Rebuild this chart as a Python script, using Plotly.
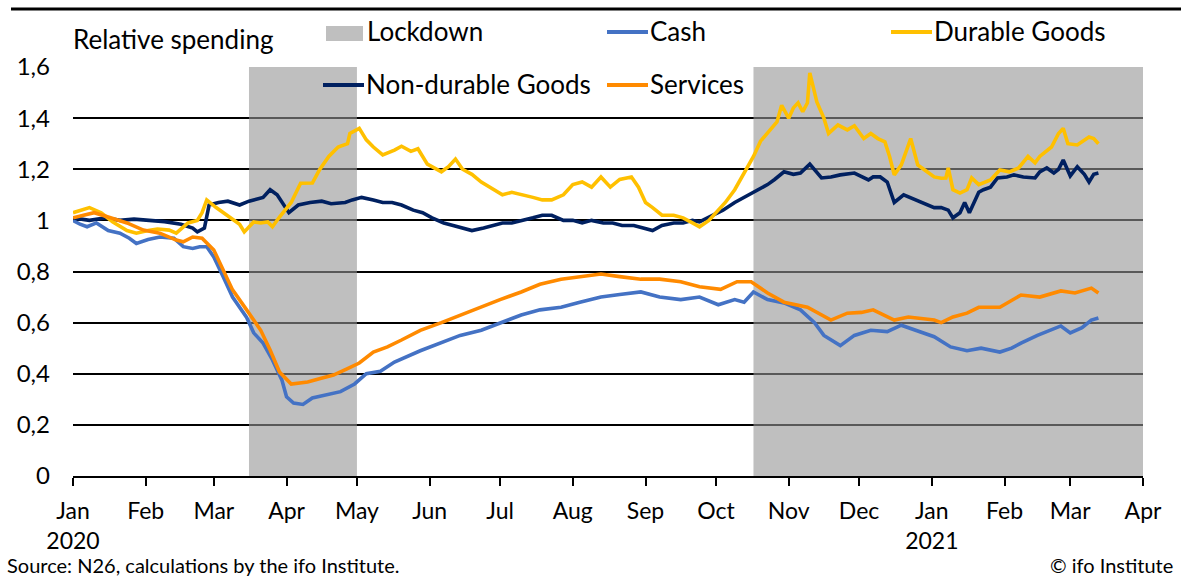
import plotly.graph_objects as go

# ---------------- data ----------------
lockdown_periods = [("2020-03-16", "2020-05-01"), ("2020-10-17", "2021-04-01")]

cash_dates = ["2020-01-01","2020-01-04","2020-01-07","2020-01-11","2020-01-16","2020-01-21","2020-01-25","2020-01-28",
    "2020-02-02","2020-02-07","2020-02-13","2020-02-17","2020-02-21","2020-02-24","2020-02-27","2020-03-01","2020-03-05",
    "2020-03-09","2020-03-15","2020-03-18","2020-03-22","2020-03-26","2020-03-30","2020-04-01","2020-04-04","2020-04-08",
    "2020-04-12","2020-04-18","2020-04-24","2020-04-30","2020-05-05","2020-05-11","2020-05-17","2020-05-28","2020-06-06",
    "2020-06-14","2020-06-23","2020-07-01","2020-07-10","2020-07-18","2020-07-27","2020-08-04","2020-08-13","2020-08-21",
    "2020-08-30","2020-09-07","2020-09-16","2020-09-24","2020-10-02","2020-10-09","2020-10-13","2020-10-17","2020-10-23",
    "2020-10-30","2020-11-06","2020-11-12","2020-11-16","2020-11-23","2020-11-29","2020-12-06","2020-12-13","2020-12-19",
    "2020-12-27","2021-01-02","2021-01-09","2021-01-16","2021-01-22","2021-01-30","2021-02-04","2021-02-08","2021-02-15",
    "2021-02-25","2021-03-01","2021-03-06","2021-03-10","2021-03-13"]
cash_values = [1.0,0.985,0.975,0.99,0.96,0.95,0.93,0.91,
    0.925,0.935,0.93,0.897,0.89,0.897,0.897,0.857,0.78,
    0.70,0.62,0.56,0.52,0.454,0.376,0.31,0.285,0.28,
    0.305,0.318,0.33,0.36,0.40,0.41,0.446,0.49,0.52,
    0.55,0.57,0.60,0.63,0.65,0.66,0.68,0.70,0.71,
    0.72,0.70,0.69,0.70,0.67,0.69,0.68,0.72,0.69,
    0.677,0.65,0.60,0.55,0.51,0.55,0.57,0.565,0.59,
    0.565,0.545,0.505,0.49,0.50,0.485,0.50,0.52,0.55,
    0.587,0.56,0.58,0.61,0.618]

durable_dates = ["2020-01-01","2020-01-04","2020-01-08","2020-01-13","2020-01-18","2020-01-24","2020-01-28","2020-02-02",
    "2020-02-06","2020-02-11","2020-02-14","2020-02-19","2020-02-23","2020-02-25","2020-02-27","2020-03-02","2020-03-08",
    "2020-03-12","2020-03-14","2020-03-18","2020-03-21","2020-03-24","2020-03-26","2020-03-29","2020-04-03","2020-04-07",
    "2020-04-12","2020-04-15","2020-04-19","2020-04-23","2020-04-27","2020-04-28","2020-05-02","2020-05-05","2020-05-08",
    "2020-05-12","2020-05-17","2020-05-20","2020-05-24","2020-05-27","2020-05-31","2020-06-06","2020-06-09","2020-06-12",
    "2020-06-15","2020-06-19","2020-06-23","2020-06-28","2020-07-02","2020-07-06","2020-07-11","2020-07-15","2020-07-19",
    "2020-07-23","2020-07-28","2020-08-01","2020-08-05","2020-08-09","2020-08-13","2020-08-17","2020-08-21","2020-08-26",
    "2020-08-29","2020-09-01","2020-09-04","2020-09-08","2020-09-13","2020-09-17","2020-09-21","2020-09-24","2020-09-28",
    "2020-10-02","2020-10-05","2020-10-09","2020-10-12","2020-10-15","2020-10-17","2020-10-20","2020-10-24","2020-10-27",
    "2020-10-29","2020-10-31","2020-11-01","2020-11-03","2020-11-05","2020-11-07","2020-11-09","2020-11-10","2020-11-13",
    "2020-11-16","2020-11-18","2020-11-22","2020-11-26","2020-11-29","2020-12-03","2020-12-06","2020-12-09","2020-12-12",
    "2020-12-14","2020-12-16","2020-12-19","2020-12-23","2020-12-26","2020-12-30","2021-01-02","2021-01-05","2021-01-07",
    "2021-01-08","2021-01-10","2021-01-13","2021-01-16","2021-01-18","2021-01-21","2021-01-26","2021-01-30","2021-02-03",
    "2021-02-07","2021-02-11","2021-02-14","2021-02-16","2021-02-21","2021-02-24","2021-02-26","2021-02-28","2021-03-04",
    "2021-03-09","2021-03-11","2021-03-13"]
durable_values = [1.03,1.04,1.05,1.03,0.994,0.96,0.95,0.96,
    0.966,0.962,0.95,0.99,1.0,1.03,1.08,1.05,1.013,
    0.985,0.955,0.994,0.99,0.994,0.975,1.013,1.07,1.145,
    1.146,1.197,1.25,1.287,1.30,1.34,1.36,1.315,1.287,
    1.256,1.275,1.29,1.27,1.28,1.22,1.19,1.21,1.24,
    1.20,1.18,1.15,1.12,1.10,1.11,1.10,1.09,1.08,
    1.08,1.10,1.14,1.15,1.13,1.17,1.13,1.16,1.17,
    1.13,1.07,1.05,1.02,1.02,1.01,0.99,0.975,1.0,
    1.04,1.07,1.12,1.17,1.22,1.25,1.31,1.35,1.385,
    1.45,1.42,1.40,1.44,1.46,1.425,1.46,1.577,1.463,
    1.40,1.34,1.373,1.354,1.37,1.32,1.34,1.32,1.307,
    1.25,1.178,1.217,1.32,1.217,1.19,1.17,1.165,1.166,
    1.205,1.12,1.107,1.12,1.166,1.14,1.158,1.197,1.19,
    1.205,1.25,1.225,1.25,1.287,1.34,1.36,1.30,1.295,
    1.326,1.32,1.30]

nondurable_dates = ["2020-01-01","2020-01-08","2020-01-15","2020-01-21","2020-01-27","2020-02-03","2020-02-09","2020-02-16",
    "2020-02-21","2020-02-23","2020-02-26","2020-02-28","2020-03-03","2020-03-07","2020-03-12","2020-03-16","2020-03-22",
    "2020-03-25","2020-03-28","2020-04-02","2020-04-06","2020-04-11","2020-04-16","2020-04-20","2020-04-26","2020-04-29",
    "2020-05-03","2020-05-08","2020-05-12","2020-05-16","2020-05-20","2020-05-25","2020-05-29","2020-06-02","2020-06-07",
    "2020-06-11","2020-06-15","2020-06-19","2020-06-24","2020-06-28","2020-07-02","2020-07-06","2020-07-11","2020-07-15",
    "2020-07-19","2020-07-23","2020-07-28","2020-08-01","2020-08-05","2020-08-09","2020-08-14","2020-08-18","2020-08-22",
    "2020-08-27","2020-08-31","2020-09-04","2020-09-08","2020-09-13","2020-09-17","2020-09-21","2020-09-24","2020-09-30",
    "2020-10-04","2020-10-09","2020-10-13","2020-10-17","2020-10-23","2020-10-26","2020-10-30","2020-11-03","2020-11-06",
    "2020-11-10","2020-11-13","2020-11-15","2020-11-19","2020-11-23","2020-11-29","2020-12-02","2020-12-05","2020-12-07",
    "2020-12-10","2020-12-13","2020-12-16","2020-12-20","2020-12-24","2020-12-27","2021-01-02","2021-01-05","2021-01-08",
    "2021-01-10","2021-01-13","2021-01-15","2021-01-17","2021-01-21","2021-01-23","2021-01-26","2021-01-29","2021-02-02",
    "2021-02-05","2021-02-09","2021-02-14","2021-02-16","2021-02-19","2021-02-22","2021-02-24","2021-02-26","2021-03-01",
    "2021-03-04","2021-03-07","2021-03-09","2021-03-11","2021-03-13"]
nondurable_values = [1.01,1.0,1.01,1.0,1.005,1.0,0.995,0.985,
    0.97,0.955,0.97,1.06,1.07,1.075,1.06,1.075,1.09,
    1.12,1.10,1.03,1.06,1.07,1.075,1.065,1.07,1.08,
    1.09,1.08,1.07,1.07,1.06,1.04,1.03,1.01,0.99,
    0.98,0.97,0.96,0.97,0.98,0.99,0.99,1.0,1.01,
    1.02,1.02,1.0,1.0,0.99,1.0,0.99,0.99,0.98,
    0.98,0.97,0.96,0.98,0.99,0.99,1.0,0.994,1.02,
    1.04,1.07,1.09,1.107,1.14,1.16,1.19,1.18,1.185,
    1.22,1.19,1.166,1.17,1.178,1.185,1.17,1.158,1.17,
    1.17,1.15,1.07,1.10,1.085,1.07,1.05,1.05,1.04,
    1.01,1.03,1.07,1.03,1.11,1.12,1.13,1.166,1.17,
    1.178,1.17,1.166,1.19,1.205,1.185,1.20,1.236,1.174,
    1.21,1.18,1.15,1.18,1.185]

services_dates = ["2020-01-01","2020-01-05","2020-01-10","2020-01-16","2020-01-20","2020-01-24","2020-01-31","2020-02-07",
    "2020-02-14","2020-02-17","2020-02-21","2020-02-25","2020-03-01","2020-03-05","2020-03-09","2020-03-15","2020-03-21",
    "2020-03-25","2020-03-29","2020-04-03","2020-04-10","2020-04-15","2020-04-21","2020-04-27","2020-05-02","2020-05-08",
    "2020-05-14","2020-05-20","2020-05-28","2020-06-06","2020-06-14","2020-06-23","2020-07-01","2020-07-10","2020-07-18",
    "2020-07-27","2020-08-04","2020-08-13","2020-08-21","2020-08-30","2020-09-07","2020-09-16","2020-09-24","2020-10-03",
    "2020-10-10","2020-10-16","2020-10-23","2020-10-30","2020-11-09","2020-11-15","2020-11-19","2020-11-26","2020-12-02",
    "2020-12-07","2020-12-13","2020-12-16","2020-12-22","2021-01-02","2021-01-05","2021-01-10","2021-01-16","2021-01-21",
    "2021-01-30","2021-02-08","2021-02-16","2021-02-25","2021-03-03","2021-03-10","2021-03-13"]
services_values = [1.01,1.02,1.03,1.013,1.0,0.99,0.962,0.95,
    0.923,0.916,0.935,0.93,0.884,0.806,0.728,0.65,0.57,
    0.493,0.407,0.36,0.368,0.38,0.395,0.42,0.442,0.485,
    0.505,0.532,0.57,0.60,0.63,0.66,0.69,0.72,0.75,
    0.77,0.78,0.79,0.78,0.77,0.77,0.76,0.74,0.73,
    0.76,0.76,0.716,0.68,0.66,0.63,0.61,0.637,0.64,
    0.65,0.622,0.61,0.622,0.61,0.60,0.622,0.637,0.66,
    0.66,0.708,0.70,0.724,0.716,0.735,0.716]

month_ticks = ["2020-01-01","2020-02-01","2020-03-01","2020-04-01","2020-05-01","2020-06-01","2020-07-01","2020-08-01",
    "2020-09-01","2020-10-01","2020-11-01","2020-12-01","2021-01-01","2021-02-01","2021-03-01","2021-04-01"]
month_labels = ["Jan<br>2020","Feb","Mar","Apr","May","Jun","Jul","Aug","Sep","Oct","Nov","Dec",
    "Jan<br>2021","Feb","Mar","Apr"]

series = [
    ("Cash", cash_dates, cash_values, "#4472c4"),
    ("Non-durable Goods", nondurable_dates, nondurable_values, "#002060"),
    ("Durable Goods", durable_dates, durable_values, "#ffc000"),
    ("Services", services_dates, services_values, "#ff8a00"),
]

# ---------------- layout geometry ----------------
W, H = 1181, 578
ML, MR, MT, MB = 73, 38, 67, 102
PW, PH = W - ML - MR, H - MT - MB
FONT = "Lato"

def px(x):
    return (x - ML) / PW

def py(y):
    return (H - MB - y) / PH

fig = go.Figure()
for name, d, v, c in series:
    fig.add_trace(go.Scatter(x=d, y=v, mode="lines", name=name, showlegend=False,
                             line=dict(color=c, width=3.6)))

shapes = []
for a, b in lockdown_periods:
    shapes.append(dict(type="rect", xref="x", yref="y", x0=a, x1=b, y0=0, y1=1.6,
                       layer="between", fillcolor="rgba(149,149,149,0.6)", line=dict(width=0)))
# top rule
shapes.append(dict(type="line", xref="paper", yref="paper", x0=px(11), x1=px(1181), y0=py(9), y1=py(9),
                   line=dict(color="black", width=3)))

annotations = []
def text(x, y, s, size, anchor="left"):
    annotations.append(dict(xref="paper", yref="paper", x=px(x), y=py(y), text=s, showarrow=False,
                            xanchor=anchor, yanchor="middle", borderpad=0,
                            font=dict(family=FONT, size=size, color="black")))

# manual legend
LEG_SIZE = 26
shapes.append(dict(type="rect", xref="paper", yref="paper", x0=px(326), x1=px(363), y0=py(41), y1=py(26),
                   fillcolor="#bfbfbf", line=dict(width=0)))
text(366, 31, "Lockdown", LEG_SIZE)
legend_items = [("Cash", 607, 32, "#4472c4"), ("Durable Goods", 891, 32, "#ffc000"),
                ("Non-durable Goods", 323, 85, "#002060"), ("Services", 607, 85, "#ff8a00")]
for name, x0, y0, c in legend_items:
    shapes.append(dict(type="line", xref="paper", yref="paper", x0=px(x0), x1=px(x0 + 41), y0=py(y0), y1=py(y0),
                       line=dict(color=c, width=4)))
    text(x0 + 42, y0 - 1, name, LEG_SIZE)

text(72, 39, "Relative spending", LEG_SIZE)
text(6, 565, "Source: N26, calculations by the ifo Institute.", 20)
text(1174, 565, "© ifo Institute", 20, anchor="right")

fig.update_layout(
    width=W, height=H, margin=dict(l=ML, r=MR, t=MT, b=MB, pad=0),
    paper_bgcolor="white", plot_bgcolor="white",
    separators=",.",
    font=dict(family=FONT, size=22, color="black"),
    shapes=shapes, annotations=annotations,
    xaxis=dict(type="date", range=["2020-01-01", "2021-04-01"], tickvals=month_ticks, ticktext=month_labels,
               showgrid=False, showline=True, linecolor="black", linewidth=2,
               ticks="outside", ticklen=8, tickwidth=2, tickcolor="black",
               tickfont=dict(family=FONT, size=23), ticklabelstandoff=5, zeroline=False),
    yaxis=dict(range=[0, 1.6], dtick=0.2, tick0=0, showgrid=True, gridcolor="black", gridwidth=1.5,
               zeroline=False, showline=False, ticks="", tickfont=dict(family=FONT, size=24),
               ticklabelstandoff=22),
    hovermode=False,
)

fig.write_html("out.html")
